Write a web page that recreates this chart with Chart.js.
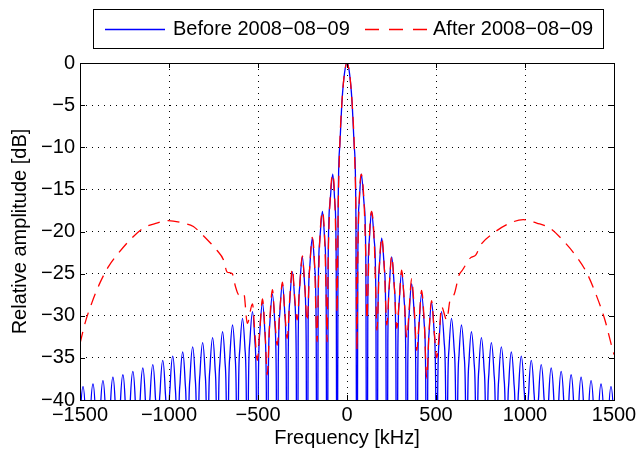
<!DOCTYPE html>
<html>
<head>
<meta charset="utf-8">
<script src="https://cdn.jsdelivr.net/npm/chart.js@4.4.0/dist/chart.umd.min.js"></script>
<style>
  html, body { margin: 0; padding: 0; background: #fff; }
</style>
</head>
<body>
<canvas id="spectrumChart" width="636" height="456"></canvas>
<script>
// Spectrum readings (kHz / dB), positive side; the negative side is mirrored
const mainLobeKhz = [0, 14, 28, 41, 50];
const mainLobeDb = [0, -1.2, -4.5, -10, -18];

const nullKhz = [56, 112, 168, 224, 280, 336, 392, 448, 504, 560, 616, 672, 728, 784,
    840, 896, 952, 1008, 1064, 1120, 1176, 1232, 1288, 1344, 1400, 1456, 1512];
const peakKhz = [80, 138, 195, 251, 307, 363, 419, 475, 531, 587, 643, 699, 755, 811,
    867, 923, 979, 1035, 1091, 1147, 1203, 1259, 1315, 1371, 1427, 1483];

// Before: sidelobe peaks
const beforePeakDb = [-13.2, -17.6, -20.8, -23.0, -24.8, -26.2, -27.4, -28.4, -29.5, -30.3,
    -31.1, -31.9, -32.6, -33.2, -33.7, -34.3, -34.8, -35.3, -35.8, -36.2, -36.6, -37.0,
    -37.3, -37.7, -38.1, -38.4];
const beforeNullDb = nullKhz.map(() => -70);

// After: lobes near the centre, then the broad hump
const afterPeakDbPos = [-13.2, -17.6, -20.7, -22.9, -24.6, -25.6, -27.0, -28.2, -28.9];
const afterNullDbPos = [-34.1, -30.5, -31.7, -31.1, -31.5, -32.6, -34.1, -37.4, -35.0, -30.5];
const afterHumpKhzPos = [580, 601, 629, 648, 695, 723, 751, 822, 916, 990, 1066, 1140, 1215,
    1290, 1347, 1403, 1449, 1493, 1500];
const afterHumpDbPos = [-28.0, -27.5, -25.2, -24.6, -23.1, -22.8, -21.6, -20.2, -19.0, -18.6,
    -19.0, -19.6, -21.1, -23.0, -24.9, -27.7, -30.5, -34.1, -34.6];

const afterPeakDbNeg = [-13.2, -17.6, -20.7, -22.9, -24.4, -26.0, -26.9, -28.0, -28.6];
const afterNullDbNeg = [-29.7, -33.1, -33.1, -30.7, -30.5, -32.7, -33.5, -37.0, -35.3, -30.9];
const afterHumpKhzNeg = [580, 608, 627, 645, 674, 693, 732, 770, 826, 863, 920, 1004, 1069,
    1144, 1219, 1285, 1341, 1388, 1434, 1472, 1500];
const afterHumpDbNeg = [-27.3, -27.5, -26.5, -25.0, -24.8, -23.4, -22.2, -21.3, -20.1, -19.4,
    -19.0, -18.7, -19.0, -19.6, -21.0, -22.6, -24.2, -26.1, -28.5, -30.9, -33.3];

// lobe flank: fraction null->peak, dB below the peak
const lobeFrac = [0.2, 0.5];
const lobeDrop = [-10, -3.5];

const xTicks = [-1500, -1000, -500, 0, 500, 1000, 1500];
const yTicks = [0, -5, -10, -15, -20, -25, -30, -35, -40];

const BLUE = '#0000ff';
const RED = '#ff0000';
const DASH = [12, 8];
const FONT = { family: '"Liberation Sans", Arial, Helvetica, sans-serif', size: 20 };

function buildSide(peakDb, nullDb, humpKhz, humpDb) {
    const pts = [];
    mainLobeKhz.forEach((f, i) => pts.push({ x: f, y: mainLobeDb[i] }));
    pts.push({ x: nullKhz[0], y: nullDb[0] });
    for (let k = 0; k < peakDb.length; k++) {
        const nL = nullKhz[k], nR = nullKhz[k + 1], p = peakKhz[k], L = peakDb[k];
        for (let j = 0; j < lobeFrac.length; j++) {
            const y = L + lobeDrop[j];
            if (y > nullDb[k] + 1.5) pts.push({ x: nL + lobeFrac[j] * (p - nL), y: y });
        }
        pts.push({ x: p, y: L });
        for (let j = lobeFrac.length - 1; j >= 0; j--) {
            const y = L + lobeDrop[j];
            if (y > nullDb[k + 1] + 1.5) pts.push({ x: p + (1 - lobeFrac[j]) * (nR - p), y: y });
        }
        pts.push({ x: nR, y: nullDb[k + 1] });
    }
    if (humpKhz) humpKhz.forEach((f, i) => pts.push({ x: f, y: humpDb[i] }));
    return pts;
}

function mirror(neg, pos) {
    const left = neg.slice(1).map(p => ({ x: -p.x, y: p.y })).reverse();
    return left.concat(pos);
}

const beforeData = mirror(buildSide(beforePeakDb, beforeNullDb), buildSide(beforePeakDb, beforeNullDb));
const afterData = mirror(
    buildSide(afterPeakDbNeg, afterNullDbNeg, afterHumpKhzNeg, afterHumpDbNeg),
    buildSide(afterPeakDbPos, afterNullDbPos, afterHumpKhzPos, afterHumpDbPos)
);

const minus = v => String(v).replace('-', '\u2212');

// frame, inward ticks, legend box
const matlabAxes = {
    id: 'matlabAxes',
    afterDatasetsDraw(chart) {
        const { ctx, chartArea: a, scales } = chart;
        ctx.save();
        ctx.strokeStyle = '#000';
        ctx.lineWidth = 1;
        ctx.beginPath();
        xTicks.forEach(v => {
            const px = Math.round(scales.x.getPixelForValue(v)) + 0.5;
            ctx.moveTo(px, a.bottom); ctx.lineTo(px, a.bottom - 5);
            ctx.moveTo(px, a.top); ctx.lineTo(px, a.top + 5);
        });
        yTicks.forEach(v => {
            const py = Math.round(scales.y.getPixelForValue(v)) + 0.5;
            ctx.moveTo(a.left, py); ctx.lineTo(a.left + 5, py);
            ctx.moveTo(a.right, py); ctx.lineTo(a.right - 5, py);
        });
        ctx.stroke();
        ctx.strokeRect(Math.round(a.left) + 0.5, Math.round(a.top) + 0.5,
            Math.round(a.right - a.left), Math.round(a.bottom - a.top));
        ctx.restore();
    },
    afterDraw(chart) {
        const ctx = chart.ctx;
        ctx.save();
        ctx.fillStyle = '#fff';
        ctx.fillRect(93, 9, 511, 40);
        ctx.strokeStyle = '#000';
        ctx.lineWidth = 1;
        ctx.strokeRect(93.5, 9.5, 510, 39);
        const y = 29.5;
        const items = [
            { label: chart.data.datasets[1].label, color: BLUE, dash: [], x0: 105, x1: 165, tx: 173 },
            { label: chart.data.datasets[0].label, color: RED, dash: [14, 10], x0: 365, x1: 427, tx: 433 }
        ];
        items.forEach(it => {
            ctx.strokeStyle = it.color;
            ctx.lineWidth = 1.3;
            ctx.setLineDash(it.dash);
            ctx.beginPath();
            ctx.moveTo(it.x0, y); ctx.lineTo(it.x1, y);
            ctx.stroke();
            ctx.setLineDash([]);
            ctx.fillStyle = '#000';
            ctx.font = FONT.size + 'px ' + FONT.family;
            ctx.textBaseline = 'middle';
            ctx.fillText(it.label, it.tx, y);
        });
        ctx.restore();
    }
};

new Chart(document.getElementById('spectrumChart'), {
    type: 'line',
    data: {
        datasets: [
            {
                label: 'After 2008\u221208\u221209',
                data: afterData,
                borderColor: RED,
                borderWidth: 1.3,
                borderDash: DASH,
                pointRadius: 0,
                cubicInterpolationMode: 'monotone',
                fill: false,
                order: 0
            },
            {
                label: 'Before 2008\u221208\u221209',
                data: beforeData,
                borderColor: BLUE,
                borderWidth: 1.3,
                pointRadius: 0,
                cubicInterpolationMode: 'monotone',
                fill: false,
                order: 1
            }
        ]
    },
    options: {
        responsive: false,
        animation: false,
        events: [],
        capBezierPoints: false,
        layout: { padding: { left: 0, right: 22, top: 63, bottom: 0 } },
        plugins: { legend: { display: false }, tooltip: { enabled: false } },
        scales: {
            x: {
                type: 'linear',
                min: -1500,
                max: 1500,
                ticks: { stepSize: 500, color: '#000', font: FONT, padding: 3, maxRotation: 0, autoSkip: false, callback: minus },
                grid: { color: '#000', lineWidth: 1, drawTicks: false },
                border: { display: false, dash: [1, 5] },
                title: { display: true, text: 'Frequency [kHz]', color: '#000', font: FONT, padding: { top: 0, bottom: 6 } },
                afterFit: s => { s.height = 56; s.paddingLeft = 0; s.paddingRight = 0; }
            },
            y: {
                type: 'linear',
                min: -40,
                max: 0,
                ticks: { stepSize: 5, color: '#000', font: FONT, padding: 5, callback: minus },
                grid: { color: '#000', lineWidth: 1, drawTicks: false },
                border: { display: false, dash: [1, 5] },
                title: { display: true, text: 'Relative amplitude [dB]', color: '#000', font: FONT, padding: { top: 8, bottom: 0 } },
                afterFit: s => { s.width = 80; s.paddingTop = 0; s.paddingBottom = 0; }
            }
        }
    },
    plugins: [matlabAxes]
});
</script>
</body>
</html>
